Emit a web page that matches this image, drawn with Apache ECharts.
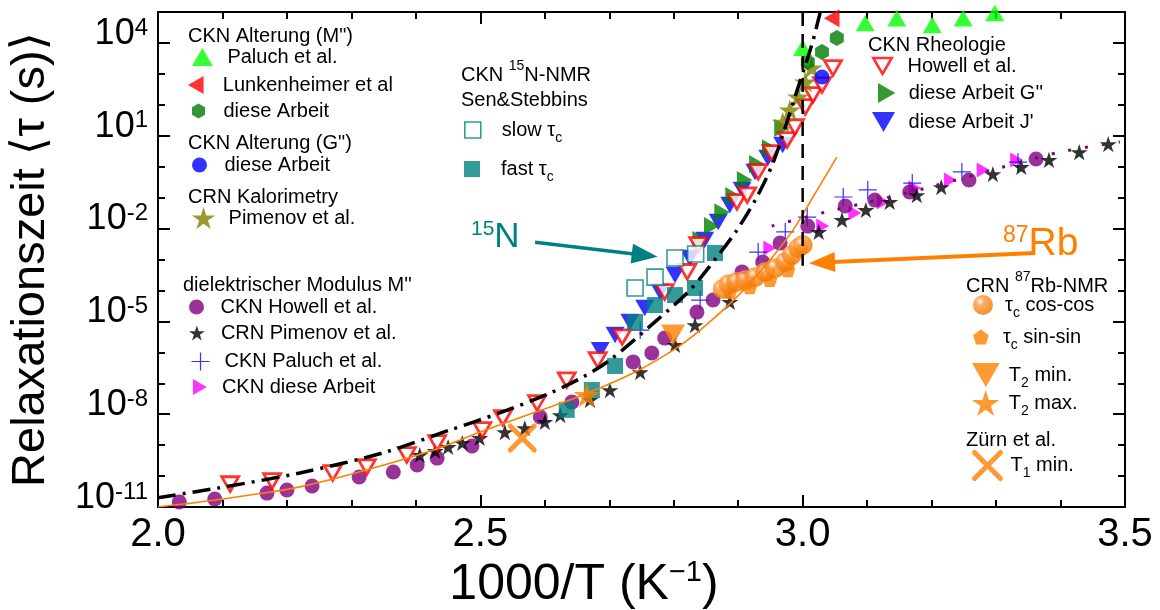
<!DOCTYPE html>
<html>
<head>
<meta charset="utf-8">
<title>Relaxationszeit CKN / CRN</title>
<script src="https://cdn.jsdelivr.net/npm/echarts@6/dist/echarts.min.js"></script>
<style>
  html, body { margin: 0; padding: 0; background: #fff; }
  #chart { width: 1160px; height: 610px; }
</style>
</head>
<body>
<div id="chart"></div>
<script>
// all points: [1000/T in 1/K, log10(tau / s)]

// dielektrischer Modulus M''
const howellM = [[2.033,-10.84],[2.088,-10.74],[2.169,-10.55],[2.200,-10.45],[2.239,-10.32],[2.312,-10.03],[2.365,-9.87],[2.402,-9.64],[2.433,-9.42],[2.487,-9.03],[2.593,-8.09],[2.642,-7.61],[2.737,-6.31],[2.766,-6.02],[2.786,-5.54],[2.836,-4.70],[2.861,-4.31],[2.906,-3.40],[2.938,-3.08],[2.965,-2.47],[3.008,-1.92],[3.066,-1.27],[3.112,-1.08],[3.166,-0.82],[3.258,-0.43],[3.362,0.25]];
const pimenovM = [[2.406,-9.32],[2.430,-9.19],[2.450,-9.06],[2.472,-8.93],[2.499,-8.77],[2.538,-8.58],[2.569,-8.45],[2.600,-8.25],[2.624,-8.03],[2.670,-7.54],[2.701,-7.22],[2.748,-6.64],[2.802,-5.76],[2.833,-5.12],[2.887,-4.37],[3.025,-2.11],[3.061,-1.72],[3.098,-1.40],[3.135,-1.14],[3.177,-0.92],[3.215,-0.66],[3.295,-0.24],[3.339,-0.01],[3.382,0.22],[3.429,0.47],[3.474,0.73]];
const paluchM = [[2.748,-5.28],[2.841,-4.31],[2.931,-2.76],[2.973,-2.11],[3.007,-1.63],[3.063,-0.98],[3.101,-0.75],[3.170,-0.53],[3.247,-0.17],[3.334,0.15]];
const dieseM = [[2.949,-2.63],[3.031,-1.92],[3.081,-1.50],[3.125,-1.14],[3.174,-0.69],[3.229,-0.43],[3.280,-0.11],[3.332,0.22]];
const dieseMFit = [[2.952,-1.92],[3.035,-1.47],[3.089,-1.21],[3.197,-0.66],[3.306,-0.04],[3.399,0.47],[3.492,0.80]];

// CKN Alterung, Kalorimetrie
const agingPaluch = [[3.000,3.84],[3.097,4.64],[3.146,4.80],[3.201,4.58],[3.249,4.80],[3.298,4.97]];
const agingLunk = [[3.045,4.80]];
const agingDieseM = [[3.008,3.38],[3.030,3.71],[3.053,4.16]];
const agingDieseG = [[3.030,2.90]];
const calPimenov = [[2.969,1.44],[2.980,1.83],[2.993,2.25],[3.004,2.74],[3.014,3.19]];

// CKN Rheologie
const rheoHowell = [[2.112,-10.26],[2.177,-10.16],[2.271,-9.90],[2.324,-9.71],[2.386,-9.32],[2.433,-8.93],[2.503,-8.51],[2.535,-8.12],[2.588,-7.64],[2.634,-6.90],[2.682,-6.25],[2.720,-5.51],[2.786,-4.05],[2.821,-3.40],[2.838,-2.53],[2.898,-1.14],[2.914,-0.92],[2.931,-0.17],[2.952,0.44],[2.976,0.86],[2.988,1.28],[3.004,1.93],[3.016,2.32],[3.030,2.64],[3.047,3.19]];
const rheoG = [[2.841,-2.37],[2.859,-1.92],[2.875,-1.47],[2.892,-0.95],[2.910,-0.43],[2.929,0.09],[2.949,0.60],[2.968,1.25]];
const rheoJ = [[2.686,-5.93],[2.709,-5.44],[2.732,-5.02],[2.755,-4.57],[2.779,-4.05],[2.802,-3.50],[2.825,-2.95],[2.848,-2.37],[2.869,-1.79],[2.887,-1.24],[2.906,-0.75],[2.926,-0.17],[2.946,0.28],[2.969,0.70]];

// 15N-NMR (Sen & Stebbins)
const nmrSlow = [[2.740,-3.92],[2.771,-3.57],[2.802,-2.95],[2.834,-2.82]];
const nmrFast = [[2.634,-7.86],[2.673,-7.22],[2.709,-6.44],[2.740,-5.02],[2.771,-4.47],[2.802,-4.15],[2.833,-3.92],[2.864,-2.79]];

// 87Rb-NMR
const rbCos = [[2.876,-3.95],[2.885,-3.80],[2.897,-3.73],[2.911,-3.66],[2.926,-3.57],[2.942,-3.40],[2.957,-3.28],[2.973,-3.08],[2.983,-2.86],[2.993,-2.63],[3.000,-2.53]];
const rbSin = [[2.887,-4.05],[2.918,-3.89],[2.949,-3.66],[2.977,-3.34]];
const rbT2min = [[2.799,-5.44]];
const rbT2max = [[2.665,-7.38]];
const zuernT1 = [[2.565,-8.77]];

// fit curves
const fitAlpha = [[2.000,-10.70],[2.092,-10.39],[2.220,-9.90],[2.349,-9.25],[2.453,-8.51],[2.530,-7.96],[2.608,-7.32],[2.659,-6.80],[2.701,-6.25],[2.774,-4.96],[2.825,-3.99],[2.867,-2.92],[2.898,-2.05],[2.929,-0.98],[2.954,0.12],[2.976,1.47],[2.988,2.25],[3.014,3.93],[3.027,4.97]];
const fitRb = [[2.000,-11.00],[2.065,-10.84],[2.143,-10.61],[2.220,-10.35],[2.324,-9.80],[2.427,-9.16],[2.499,-8.58],[2.582,-7.96],[2.659,-7.38],[2.737,-6.67],[2.799,-5.93],[2.841,-5.28],[2.898,-4.21],[2.949,-3.02],[2.985,-2.05],[3.016,-0.98],[3.053,0.31]];
const tgLine = [[3.0,5],[3.0,-3.2]];

// annotation arrows (data coords)
const arrowN = [[2.585,-2.44],[2.755,-2.86]];
const arrowRb = [[3.360,-2.79],[3.030,-3.10]];

const yLabelExp = [-11, -8, -5, -2, 1, 4];

const FONT = '"Liberation Sans", Arial, sans-serif';
const ORANGE = '#FF8000';
const TEAL = '#008080';

const SYM = {
    up: 'path://M10,0L20,17.32L0,17.32Z',
    down: 'path://M0,0L20,0L10,17.32Z',
    right: 'path://M0,0L17.32,10L0,20Z',
    left: 'path://M17.32,0L17.32,20L0,10Z',
    square: 'path://M0,0L10,0L10,10L0,10Z',
    star: 'path://M50,0L61.2,34.5L97.6,34.5L68.2,55.9L79.4,90.5L50,69.1L20.6,90.5L31.8,55.9L2.4,34.5L38.8,34.5Z',
    hex: 'path://M43.3,0L86.6,25L86.6,75L43.3,100L0,75L0,25Z',
    pent: 'path://M50,0L97.6,34.5L79.4,90.5L20.6,90.5L2.4,34.5Z',
    plus: 'path://M10,0L10,20M0,10L20,10',
    cross: 'path://M0,0L20,20M20,0L0,20'
};

const sphere = new echarts.graphic.RadialGradient(0.35, 0.32, 0.65, [
    { offset: 0, color: '#ffffff' },
    { offset: 0.3, color: '#FF9A3C' },
    { offset: 1, color: '#F07800' }
]);

function scatter(name, data, symbol, size, itemStyle, z) {
    return {
        name: name, type: 'scatter', data: data, symbol: symbol, symbolSize: size,
        symbolKeepAspect: true, itemStyle: itemStyle, z: z, silent: true
    };
}

function curve(name, data, lineStyle, z, smooth) {
    return {
        name: name, type: 'line', data: data, symbol: 'none', showSymbol: false,
        smooth: smooth, lineStyle: lineStyle, z: z, silent: true
    };
}

function arrow(name, pts, color, width, head) {
    return {
        name: name, type: 'line', data: [], z: 12, silent: true,
        markLine: {
            silent: true, animation: false,
            symbol: ['none', 'triangle'], symbolSize: head,
            label: { show: false },
            lineStyle: { color: color, width: width, type: 'solid' },
            data: [[{ coord: pts[0] }, { coord: pts[1] }]]
        }
    };
}

const series = [
    scatter('dDiese', dieseM, SYM.right, 15, { color: '#FF00FF' }, 2),
    scatter('dPaluch', paluchM, SYM.plus, 18, { color: 'none', borderColor: '#0000FF', borderWidth: 1.2 }, 3),
    scatter('dHowell', howellM, 'circle', 15, { color: '#800080' }, 4),
    scatter('dPimenov', pimenovM, SYM.star, 17, { color: '#000000' }, 5),
    scatter('rhJ', rheoJ, SYM.down, 19, { color: '#0000FF' }, 6),
    scatter('rhG', rheoG, SYM.right, 18, { color: '#008000' }, 7),
    scatter('rhHowell', rheoHowell, SYM.down, 17, { color: '#ffffff', borderColor: '#FF0000', borderWidth: 2.8 }, 8),
    scatter('nFast', nmrFast, SYM.square, 16, { color: TEAL }, 9),
    scatter('nSlow', nmrSlow, SYM.square, 16, { color: '#ffffff', borderColor: TEAL, borderWidth: 1.6 }, 9),
    scatter('calPimenov', calPimenov, SYM.star, 22, { color: '#808000' }, 9),
    scatter('gDiese', agingDieseG, 'circle', 15, { color: '#0000FF' }, 9),
    scatter('mDiese', agingDieseM, SYM.hex, 16, { color: '#007A00' }, 9),
    scatter('mLunk', agingLunk, SYM.left, 18, { color: '#FF0000' }, 9),
    scatter('mPaluch', agingPaluch, SYM.up, 19, { color: '#00FF00' }, 9),
    scatter('rbSin', rbSin, SYM.pent, 15, { color: ORANGE }, 10),
    scatter('rbCos', rbCos, 'circle', 20, { color: sphere }, 10),
    scatter('rbT2min', rbT2min, SYM.down, 24, { color: ORANGE }, 10),
    scatter('rbT2max', rbT2max, SYM.star, 26, { color: ORANGE }, 10),
    scatter('zT1', zuernT1, SYM.cross, 24, { color: 'none', borderColor: ORANGE, borderWidth: 5, borderCap: 'round' }, 10),
    curve('fitDieseM', dieseMFit, { color: '#800080', width: 3, type: [3, 14] }, 11, 0.3),
    curve('fitRb', fitRb, { color: ORANGE, width: 1.6 }, 11, 0.4),
    curve('fitAlpha', fitAlpha, { color: '#000000', width: 3.5, type: [18, 7, 3, 7] }, 11, 0.3),
    curve('tg', tgLine, { color: '#000000', width: 2.5, type: [14, 8] }, 11, false),
    arrow('arrowN', arrowN, TEAL, 3.5, [20, 26]),
    arrow('arrowRb', arrowRb, ORANGE, 4, [20, 26])
];

// legend entries: display text
const legendText = {
    mPaluch: '{t|Paluch et al.}',
    mLunk: '{t|Lunkenheimer et al}',
    mDiese: '{t|diese Arbeit}',
    gDiese: '{t|diese Arbeit}',
    calPimenov: '{t|Pimenov et al.}',
    nSlow: '{t|slow τ}{sub|c}',
    nFast: '{t|fast τ}{sub|c}',
    rhHowell: '{t|Howell et al.}',
    rhG: "{t|diese Arbeit G''}",
    rhJ: "{t|diese Arbeit J'}",
    dHowell: '{t|CKN Howell et al.}',
    dPimenov: '{t|CRN Pimenov et al.}',
    dPaluch: '{t|CKN Paluch et al.}',
    dDiese: '{t|CKN diese Arbeit}',
    rbCos: '{t|τ}{sub|c}{t| cos-cos}',
    rbSin: '{t|τ}{sub|c}{t| sin-sin}',
    rbT2min: '{t|T}{sub|2}{t| min.}',
    rbT2max: '{t|T}{sub|2}{t| max.}',
    zT1: '{t|T}{sub|1}{t| min.}'
};

// [series, icon centre x, icon centre y, icon size, text x, icon border]
const legendLayout = [
    ['mPaluch', 212, 62, 18, 237],
    ['mLunk', 210, 90, 18, 237],
    ['mDiese', 212, 116, 15, 237],
    ['gDiese', 212, 170, 15, 237],
    ['calPimenov', 212, 222, 22, 237],
    ['nSlow', 488, 135, 16, 517, 1.6],
    ['nFast', 488, 174, 16, 517],
    ['rhHowell', 892, 71, 16, 917, 2.6],
    ['rhG', 895, 98, 20, 917],
    ['rhJ', 892, 127, 20, 917],
    ['dHowell', 208, 312, 15, 232],
    ['dPimenov', 208, 338, 15, 232],
    ['dPaluch', 208, 365, 18, 232, 1.2],
    ['dDiese', 210, 392, 16, 232],
    ['rbCos', 990, 310, 20, 1012],
    ['rbSin', 990, 342, 15, 1012],
    ['rbT2min', 990, 378, 24, 1013],
    ['rbT2max', 990, 405, 26, 1013],
    ['zT1', 990, 465, 26, 1013, 5]
];

const LINE_H = 30;
const legends = legendLayout.map(function (l) {
    const w = Math.max(l[3], 2 * (l[4] - l[1] - 5));
    const h = Math.max(l[3], LINE_H);
    return {
        data: [l[0]], selectedMode: false, orient: 'vertical', padding: 0,
        left: l[1] - w / 2, top: l[2] - h / 2,
        itemWidth: w, itemHeight: l[3], symbolKeepAspect: true,
        itemStyle: { borderWidth: l[5] || 0 },
        formatter: function (n) { return legendText[n]; },
        textStyle: {
            color: '#000',
            rich: {
                t: { fontFamily: FONT, fontSize: 20, color: '#000', lineHeight: LINE_H, verticalAlign: 'middle' },
                sub: { fontFamily: FONT, fontSize: 14, color: '#000', lineHeight: LINE_H, verticalAlign: 'bottom' }
            }
        }
    };
});

// section headings and annotation labels
const headings = [
    ['CKN Alterung (M")', 188, 36],
    ['CKN Alterung (G")', 188, 143],
    ['CRN Kalorimetry', 188, 197],
    ['{t|CKN }{sup|15}{t|N-NMR}', 461, 72],
    ['Sen&Stebbins', 461, 100],
    ['CKN Rheologie', 868, 45],
    ["dielektrischer Modulus M''", 183, 285],
    ['{t|CRN }{sup|87}{t|Rb-NMR}', 966, 283],
    ['Zürn et al.', 966, 440]
];

const richHead = {
    t: { fontFamily: FONT, fontSize: 20, fill: '#000', lineHeight: 26, verticalAlign: 'bottom' },
    sup: { fontFamily: FONT, fontSize: 14, fill: '#000', lineHeight: 26, verticalAlign: 'top' }
};

const graphic = headings.map(function (h) {
    return {
        type: 'text', x: h[1], y: h[2], silent: true,
        style: {
            text: h[0], fill: '#000', fontFamily: FONT, fontSize: 20,
            align: 'left', verticalAlign: 'middle', rich: richHead
        }
    };
});

graphic.push({
    type: 'text', x: 471, y: 237, silent: true,
    style: {
        text: '{sup|15}{big|N}', align: 'left', verticalAlign: 'middle',
        rich: {
            sup: { fontFamily: FONT, fontSize: 21, fill: TEAL, lineHeight: 36, verticalAlign: 'top' },
            big: { fontFamily: FONT, fontSize: 35, fill: TEAL, lineHeight: 36, verticalAlign: 'bottom' }
        }
    }
});
graphic.push({
    type: 'text', x: 1003, y: 244, silent: true,
    style: {
        text: '{sup|87}{big|Rb}', align: 'left', verticalAlign: 'middle',
        rich: {
            sup: { fontFamily: FONT, fontSize: 23, fill: ORANGE, lineHeight: 40, verticalAlign: 'top' },
            big: { fontFamily: FONT, fontSize: 39, fill: ORANGE, lineHeight: 40, verticalAlign: 'bottom' }
        }
    }
});
graphic.push({
    type: 'text', x: 584, y: 584, silent: true,
    style: {
        text: '{t|1000/T (K}{sup|−1}{t|)}', align: 'center', verticalAlign: 'middle',
        rich: {
            t: { fontFamily: FONT, fontSize: 50, fill: '#000', lineHeight: 52, verticalAlign: 'bottom' },
            sup: { fontFamily: FONT, fontSize: 29, fill: '#000', lineHeight: 52, verticalAlign: 'top' }
        }
    }
});

const axisBlack = { color: '#000', width: 2 };

function xAxisDef(pos, labels) {
    return {
        type: 'value', position: pos, min: 2, max: 3.5, interval: 0.5,
        axisLine: { show: true, onZero: false, lineStyle: axisBlack },
        axisTick: { show: true, inside: true, length: 12, lineStyle: axisBlack },
        minorTick: { show: true, splitNumber: 5, length: 7, lineStyle: axisBlack },
        axisLabel: {
            show: labels, margin: 8, color: '#000', fontFamily: FONT, fontSize: 40,
            formatter: function (v) { return v.toFixed(1); }
        },
        splitLine: { show: false }, minorSplitLine: { show: false }
    };
}

function yAxisDef(pos, major, labels) {
    return {
        type: 'value', position: pos, min: -11, max: 5, interval: major ? 3 : 1,
        name: labels ? 'Relaxationszeit \u27e8\u03c4 (s)\u27e9' : '',
        nameLocation: 'middle', nameRotate: 90, nameGap: 103,
        nameTextStyle: { fontFamily: FONT + ', "DejaVu Sans"', fontSize: 47, color: '#000' },
        axisLine: { show: major, onZero: false, lineStyle: axisBlack },
        axisTick: { show: true, inside: true, length: major ? 12 : 7, lineStyle: axisBlack },
        axisLabel: {
            show: labels, margin: 10, padding: [0, 0, 18, 0],
            formatter: function (v) { return yLabelExp.indexOf(v) >= 0 ? '{b|10}{s|' + v + '}' : ''; },
            rich: {
                b: { fontFamily: FONT, fontSize: 36, lineHeight: 36, color: '#000', verticalAlign: 'top' },
                s: { fontFamily: FONT, fontSize: 24, lineHeight: 24, color: '#000', verticalAlign: 'top' }
            }
        },
        splitLine: { show: false }
    };
}

const chart = echarts.init(document.getElementById('chart'), null, { renderer: 'canvas' });
chart.setOption({
    animation: false,
    backgroundColor: '#fff',
    grid: { left: 158, right: 35, top: 12, bottom: 103, containLabel: false },
    xAxis: [xAxisDef('bottom', true), xAxisDef('top', false)],
    yAxis: [yAxisDef('left', true, true), yAxisDef('left', false, false), yAxisDef('right', true, false), yAxisDef('right', false, false)],
    legend: legends,
    graphic: graphic,
    series: series
});
</script>
</body>
</html>
